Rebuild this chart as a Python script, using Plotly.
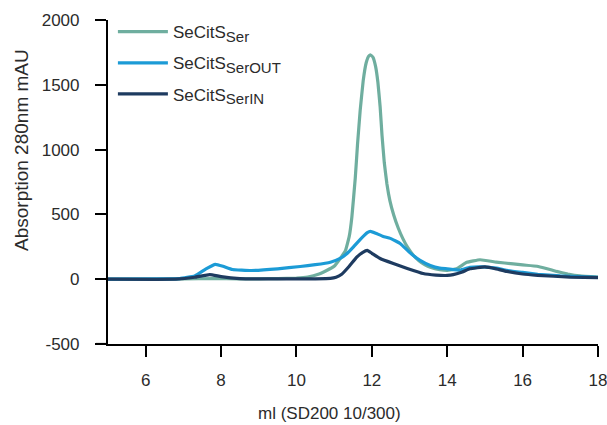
import plotly.graph_objects as go

# ---- data ----
ser_x = [5, 6, 7, 7.8, 8.5, 9, 9.5, 10, 10.3, 10.6, 10.8, 11.0, 11.16, 11.3, 11.4, 11.47,
         11.56, 11.62, 11.69, 11.77, 11.85, 11.92, 11.97, 12.03, 12.1, 12.16, 12.22, 12.27,
         12.33, 12.4, 12.48, 12.58, 12.7, 12.82, 12.95, 13.1, 13.25, 13.4, 13.55, 13.8, 14.0,
         14.25, 14.52, 14.87, 15.3, 15.75, 16.0, 16.38, 16.6, 16.9, 17.2, 17.52, 18]
ser_y = [0, 0, 2, 5, 3, 3, 5, 8, 16, 40, 67, 100, 160, 220, 330, 480,
         780, 1040, 1300, 1530, 1670, 1722, 1730, 1712, 1640, 1520, 1330, 1110,
         900, 735, 605, 495, 395, 315, 245, 185, 142, 112, 93, 74, 68,
         80, 130, 150, 132, 118, 110, 100, 85, 60, 40, 25, 16]

out_x = [5, 6.5, 6.9, 7.3, 7.6, 7.85, 8.05, 8.3, 8.8, 9.5, 10.1, 10.5, 10.9, 11.16, 11.35,
         11.5, 11.7, 11.88, 11.96, 12.1, 12.3, 12.49, 12.75, 13.0, 13.28, 13.55, 13.8, 14.0,
         14.34, 14.6, 14.95, 15.3, 15.58, 16.0, 16.4, 17.0, 17.5, 18]
out_y = [0, 2, 5, 25, 80, 115, 100, 75, 67, 80, 98, 112, 131, 160, 200,
         245, 310, 360, 369, 355, 330, 315, 276, 207, 145, 106, 85, 80,
         70, 92, 95, 85, 68, 52, 38, 25, 20, 15]

in_x = [5, 6.8, 7.3, 7.7, 8.0, 8.5, 9, 10, 10.5, 10.9, 11.05, 11.2, 11.4, 11.6, 11.75,
        11.88, 12.0, 12.22, 12.57, 12.94, 13.36, 13.7, 14.0, 14.16, 14.4, 14.6, 15.0, 15.3,
        15.58, 16.0, 16.4, 17.26, 18]
in_y = [0, 0, 15, 36, 20, 5, 2, 2, 3, 6, 15, 38, 100, 170, 205,
        222, 200, 160, 121, 83, 44, 32, 29, 35, 55, 80, 95, 80,
        60, 40, 30, 16, 12]

subs = ["Ser", "SerOUT", "SerIN"]
colors = ["#6fae9f", "#1c9bd6", "#1e3b60"]

x_ticks = [6, 8, 10, 12, 14, 16, 18]
y_ticks = [-500, 0, 500, 1000, 1500, 2000]
y_ticktext = ["-500", "0", "500", "1000", "1500", "2000"]

FONT = "Liberation Sans, Arial, sans-serif"
TXT = "#2b2b2b"

fig = go.Figure()
for i, (xs, ys) in enumerate([(ser_x, ser_y), (out_x, out_y), (in_x, in_y)]):
    label = "SeCitS<sub><span style='font-size:15px'>" + subs[i] + "</span></sub>"
    fig.add_trace(go.Scatter(x=xs, y=ys, mode="lines", name=label,
                             legendgroup=str(i),
                             line=dict(color=colors[i], width=3.2, shape="spline", smoothing=0.3)))

axis_common = dict(showline=True, linecolor="black", linewidth=2.2, ticks="outside",
                   ticklen=11, tickwidth=2.2, tickcolor="black", showgrid=False,
                   zeroline=False, automargin=False,
                   tickfont=dict(family=FONT, size=17, color=TXT))

fig.update_xaxes(range=[5, 18], tickvals=x_ticks, ticklabelstandoff=8,
                 ticklabeloverflow="allow", **axis_common)
fig.update_yaxes(range=[-500, 2000], tickvals=y_ticks, ticktext=y_ticktext,
                 ticklabelstandoff=12, **axis_common)

fig.add_shape(type="line", xref="paper", yref="y", x0=-0.025, x1=0, y0=-500, y1=-500,
              line=dict(color="black", width=2.2))

fig.add_annotation(text="ml (SD200 10/300)", xref="paper", yref="paper",
                   x=(329 - 108) / 490, y=-(413 - 344) / 324, showarrow=False,
                   xanchor="center", yanchor="middle",
                   font=dict(family=FONT, size=17, color=TXT))
fig.add_annotation(text="Absorption 280nm mAU", xref="paper", yref="paper",
                   x=(21 - 108) / 490, y=(344 - 150) / 324, showarrow=False, textangle=-90,
                   xanchor="center", yanchor="middle",
                   font=dict(family=FONT, size=19, color=TXT))

fig.update_layout(
    width=607, height=425,
    margin=dict(l=108, r=9, t=20, b=81),
    plot_bgcolor="white", paper_bgcolor="white",
    legend=dict(x=0.01, y=1.018, xanchor="left", yanchor="top", bgcolor="rgba(0,0,0,0)",
                font=dict(family=FONT, size=17, color=TXT), itemwidth=50,
                tracegroupgap=6),
    showlegend=True,
)

fig.write_html("out.html")
